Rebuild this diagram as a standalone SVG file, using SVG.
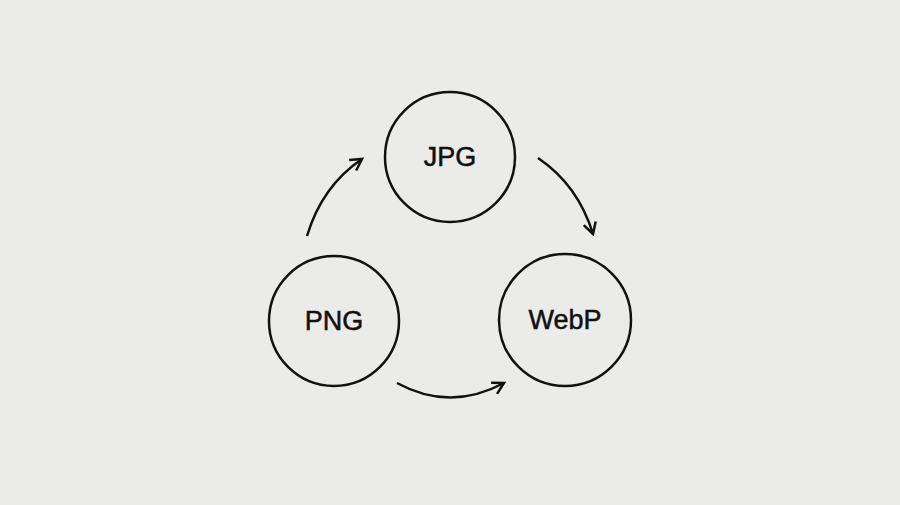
<svg xmlns="http://www.w3.org/2000/svg" width="900" height="505" viewBox="0 0 900 505">
<style>
.n{fill:none;stroke:#111;stroke-width:2.5}
.t{font-family:"Liberation Sans",Arial,sans-serif;font-size:27px;fill:#111;stroke:#111;stroke-width:0.5;text-anchor:middle}
.c{fill:none;stroke:#111;stroke-width:2.5;marker-end:url(#a)}
</style>
<defs><marker id="a" viewBox="0 0 12 12" refX="10" refY="6" markerWidth="6" markerHeight="6" orient="auto" markerUnits="strokeWidth"><path d="M1,1 L10,6 L1,11" fill="none" stroke="#111" stroke-width="2"/></marker></defs>
<rect width="900" height="505" fill="#ebebea"/>
<g id="jpg"><circle class="n" cx="450" cy="157" r="65"/><text class="t" x="450" y="166">JPG</text></g>
<g id="png"><circle class="n" cx="334" cy="321" r="65"/><text class="t" x="334" y="330">PNG</text></g>
<g id="webp"><circle class="n" cx="565" cy="320" r="66"/><text class="t" x="565" y="329">WebP</text></g>
<g id="connectors">
<path class="c" d="M307,236 Q322,186 362,159"/>
<path class="c" d="M538,158 Q578,185 593,234"/>
<path class="c" d="M397,383 Q450,412 504,383"/>
</g>
</svg>
